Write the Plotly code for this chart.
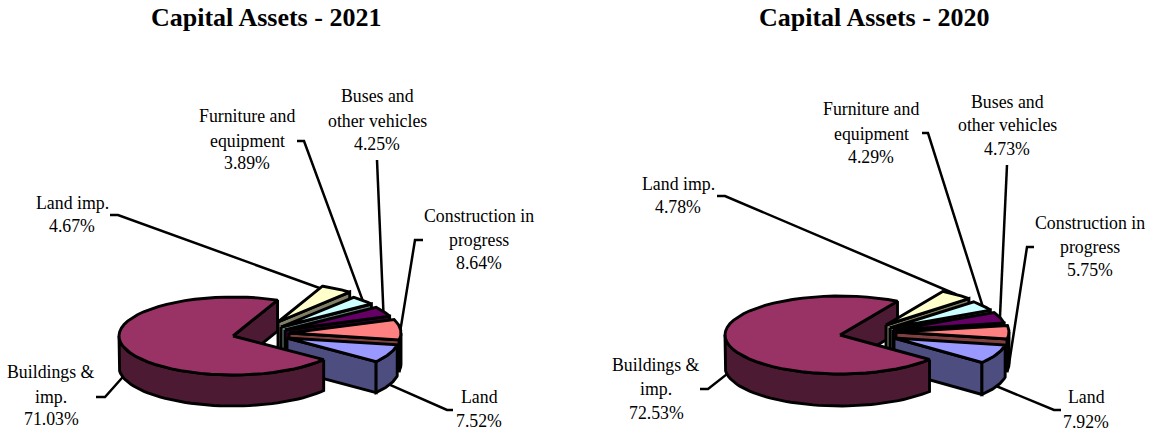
import math
import plotly.graph_objects as go

# ---- data -------------------------------------------------------------
categories = ["Land imp.", "Furniture and equipment", "Buses and other vehicles",
              "Construction in progress", "Land", "Buildings & imp."]
values_2021 = [4.67, 3.89, 4.25, 8.64, 7.52, 71.03]
values_2020 = [4.78, 4.29, 4.73, 5.75, 7.92, 72.53]
titles = ["Capital Assets - 2021", "Capital Assets - 2020"]
label_lines = [["Land imp."], ["Furniture and", "equipment"], ["Buses and", "other vehicles"],
               ["Construction in", "progress"], ["Land"], ["Buildings &", "imp."]]

# ---- style ------------------------------------------------------------
top_colors = ["#FFFFCC", "#CCFFFF", "#660066", "#FF8080", "#9999FF", "#993366"]
wall_colors = ["#808066", "#668080", "#330033", "#804040", "#4D4D80", "#4D1A33"]
FONT = "Liberation Serif"

# ---- layout of each pie (pixel scale of the hidden axes) --------------
pies = [
    dict(values=values_2021, title=titles[0], title_x=266, cx=233, cy=336, rx=114, rx_small=112,
         ry=39, depth=31, start=67,
         pull=[(45, -14), (48, -9), (52, -6), (56, -3), (54, 2), (0, 0)],
         anchor_r=[0.9, 1, 1, 1, 1, 1],
         label_x=[72, 247, 377, 479, 479, 51],
         label_y=[[203, 226], [116, 141, 163], [96, 121, 144], [216, 240, 263], [397, 421], [372, 397, 419]],
         leader=[[(110, 215), (118, 215)], [(297, 141), (304, 141)], [(377, 160)],
                 [(423, 240), (415, 240)], [(453, 410), (447, 410)], [(96, 397), (105, 397)]]),
    dict(values=values_2020, title=titles[1], title_x=874, cx=840, cy=335, rx=115, rx_small=113,
         ry=39, depth=32, start=60,
         pull=[(46, -10), (50, -7), (53, -5), (56, -3), (54, 3), (0, 0)],
         anchor_r=[1, 1, 1, 1, 1, 1],
         label_x=[678, 871, 1007, 1090, 1086, 656],
         label_y=[[184, 207], [109, 134, 157], [102, 125, 149], [223, 247, 270], [397, 422], [365, 389, 413]],
         leader=[[(717, 196), (725, 196)], [(922, 133), (928, 133)], [(1007, 165)],
                 [(1034, 247), (1027, 247)], [(1061, 410), (1054, 410)], [(700, 389), (708, 389)]]),
]

fig = go.Figure()


def poly(xs, ys, color, name):
    fig.add_trace(go.Scatter(x=xs, y=ys, mode="lines", fill="toself", fillcolor=color,
                             line=dict(color="black", width=2.9), name=name,
                             hoverinfo="name", showlegend=False))


def point(ax, ay, rx, ry, t):
    return ax + rx * math.cos(math.radians(t)), ay - ry * math.sin(math.radians(t))


def arc(ax, ay, rx, ry, a0, a1, n=48):
    pts = [point(ax, ay, rx, ry, a0 + (a1 - a0) * i / n) for i in range(n + 1)]
    return [p[0] for p in pts], [p[1] for p in pts]


def radial_wall(ax, ay, rx, ry, depth, t, i, name):
    px, py = point(ax, ay, rx, ry, t)
    poly([ax, px, px, ax, ax], [ay, py, py + depth, ay + depth, ay], wall_colors[i], name)


def outer_wall(ax, ay, rx, ry, depth, a0, a1, i, name):
    wx, wy = arc(ax, ay, rx, ry, a0, a1)
    poly(wx + wx[::-1] + wx[:1], wy + [y + depth for y in wy[::-1]] + wy[:1], wall_colors[i], name)


def top(ax, ay, rx, ry, a0, a1, i, name):
    tx, ty = arc(ax, ay, rx, ry, a0, a1)
    poly([ax] + tx + [ax], [ay] + ty + [ay], top_colors[i], name)


annotations = []
for pie in pies:
    total = sum(pie["values"])
    spans = [v / total * 360 for v in pie["values"]]
    angle = pie["start"]
    edges = []
    for s in spans:
        edges.append((angle, angle - s))   # clockwise, degrees
        angle -= s

    apex = [(pie["cx"] + dx, pie["cy"] + dy) for dx, dy in pie["pull"]]
    radius = [pie["rx_small"]] * 5 + [pie["rx"]]
    ry, depth = pie["ry"], pie["depth"]

    # leader lines go underneath the slices
    for i, (a0, a1) in enumerate(edges):
        mid = math.radians((a0 + a1) / 2)
        r = pie["anchor_r"][i]
        end_x = apex[i][0] + r * radius[i] * math.cos(mid)
        end_y = apex[i][1] - r * ry * math.sin(mid)
        if math.sin(mid) < 0:
            end_y += depth
        pts = pie["leader"][i] + [(end_x, end_y)]
        fig.add_trace(go.Scatter(x=[p[0] for p in pts], y=[p[1] for p in pts], mode="lines",
                                 line=dict(color="black", width=2.5), hoverinfo="skip", showlegend=False))

    # back wall of the big slice is drawn first
    radial_wall(apex[5][0], apex[5][1], radius[5], ry, depth, edges[5][1], 5, categories[5])

    # exploded slices back to front
    for i in range(5):
        a0, a1 = edges[i]
        radial_wall(apex[i][0], apex[i][1], radius[i], ry, depth, a1, i, categories[i])
        if a1 < 0:
            outer_wall(apex[i][0], apex[i][1], radius[i], ry, depth, min(a0, 0), a1, i, categories[i])
        top(apex[i][0], apex[i][1], radius[i], ry, a0, a1, i, categories[i])

    # big slice in front of them
    a0, a1 = edges[5]
    outer_wall(apex[5][0], apex[5][1], radius[5], ry, depth, a0, -180, 5, categories[5])
    top(apex[5][0], apex[5][1], radius[5], ry, a0, a1, 5, categories[5])

    # text
    annotations.append(dict(x=pie["title_x"], y=17, xref="x", yref="y", text="<b>%s</b>" % pie["title"],
                            showarrow=False, font=dict(family=FONT, size=26, color="black")))
    for i, lines in enumerate(label_lines):
        texts = lines + ["%.2f%%" % pie["values"][i]]
        for t, y in zip(texts, pie["label_y"][i]):
            annotations.append(dict(x=pie["label_x"][i], y=y, xref="x", yref="y", text=t, showarrow=False,
                                    font=dict(family=FONT, size=17.8, color="black")))

fig.update_layout(
    width=1151, height=432, margin=dict(l=0, r=0, t=0, b=0),
    paper_bgcolor="white", plot_bgcolor="white", showlegend=False,
    xaxis=dict(range=[0, 1151], visible=False, fixedrange=True),
    yaxis=dict(range=[432, 0], visible=False, fixedrange=True),
    annotations=annotations,
)
fig.write_html("out.html", config=dict(displayModeBar=False),
               post_script="document.body.style.margin='0';document.documentElement.style.overflow='hidden';")
